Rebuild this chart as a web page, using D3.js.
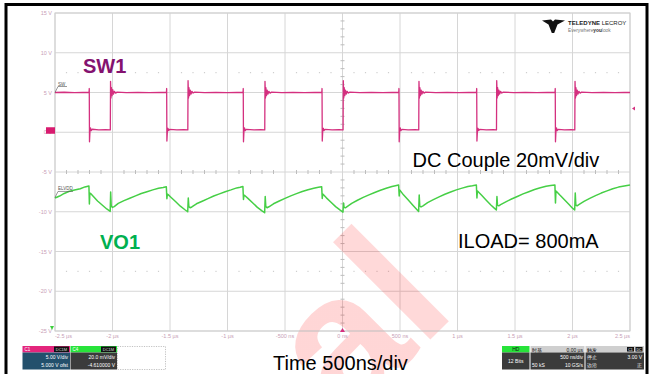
<!DOCTYPE html>
<html>
<head>
<meta charset="utf-8">
<script src="https://cdn.jsdelivr.net/npm/d3@7/dist/d3.min.js"></script>
<style>
  html, body { margin: 0; padding: 0; background: #fff; }
  svg { display: block; }
  text { font-family: "Liberation Sans", Arial, sans-serif; }
</style>
</head>
<body>
<svg id="chart" width="651" height="374"></svg>
<script>
// ---- axis ticks ----
const timeTicks = [-2.5, -2, -1.5, -1, -0.5, 0, 0.5, 1, 1.5, 2, 2.5];
const timeTickLabels = ["-2.5 µs", "-2 µs", "-1.5 µs", "-1 µs", "-500 ns", "0 ns", "500 ns", "1 µs", "1.5 µs", "2 µs", "2.5 µs"];
const voltTicks = [15, 10, 5, 0, -5, -10, -15, -20, -25];
const voltTickLabels = ["15 V", "10 V", "5 V", "0 V", "-5 V", "-10 V", "-15 V", "-20 V", "-25 V"];

// ---- C1: SW1 switching node, [time µs, volts] ----
const sw1Trace = [
  [-2.5, 5.0], [-2.42, 5.03], [-2.33, 4.98], [-2.26, 5.02], [-2.204, 5.0],
  [-2.202, 5.5], [-2.200, -1.2], [-2.196, 0.1], [-2.191, 0.55], [-2.185, 0.2], [-2.176, 0.38], [-2.12, 0.3], [-2.06, 0.33], [-2.019, 0.3],
  [-2.017, 6.4], [-2.013, 4.3], [-2.009, 5.6], [-2.004, 4.6], [-1.998, 5.35], [-1.991, 4.8], [-1.983, 5.15], [-1.973, 4.92], [-1.96, 5.05], [-1.88, 4.99], [-1.78, 5.02], [-1.68, 4.98], [-1.58, 5.01], [-1.531, 5.0],
  [-1.529, 5.5], [-1.527, -1.1], [-1.523, 0.1], [-1.518, 0.5], [-1.512, 0.2], [-1.503, 0.36], [-1.44, 0.3], [-1.38, 0.33], [-1.345, 0.3],
  [-1.343, 6.5], [-1.339, 4.3], [-1.335, 5.6], [-1.330, 4.6], [-1.324, 5.3], [-1.317, 4.8], [-1.309, 5.15], [-1.299, 4.93], [-1.286, 5.04], [-1.2, 4.99], [-1.1, 5.02], [-1.0, 4.98], [-0.92, 5.01], [-0.865, 5.0],
  [-0.863, 5.5], [-0.861, -1.2], [-0.857, 0.1], [-0.852, 0.55], [-0.846, 0.2], [-0.837, 0.37], [-0.77, 0.3], [-0.71, 0.33], [-0.676, 0.3],
  [-0.674, 6.4], [-0.670, 4.3], [-0.666, 5.6], [-0.661, 4.6], [-0.655, 5.3], [-0.648, 4.8], [-0.640, 5.15], [-0.630, 4.92], [-0.617, 5.05], [-0.53, 4.99], [-0.43, 5.02], [-0.33, 4.98], [-0.24, 5.01], [-0.180, 5.0],
  [-0.178, 5.5], [-0.176, -1.1], [-0.172, 0.1], [-0.167, 0.5], [-0.161, 0.2], [-0.152, 0.36], [-0.09, 0.3], [-0.03, 0.33], [0.005, 0.3],
  [0.007, 6.5], [0.011, 4.3], [0.015, 5.6], [0.020, 4.6], [0.026, 5.3], [0.033, 4.8], [0.041, 5.15], [0.051, 4.93], [0.064, 5.04], [0.15, 4.99], [0.25, 5.02], [0.35, 4.98], [0.43, 5.01], [0.489, 5.0],
  [0.491, 5.5], [0.493, -1.2], [0.497, 0.1], [0.502, 0.55], [0.508, 0.2], [0.517, 0.37], [0.57, 0.3], [0.63, 0.33], [0.663, 0.3],
  [0.665, 6.4], [0.669, 4.3], [0.673, 5.6], [0.678, 4.6], [0.684, 5.3], [0.691, 4.8], [0.699, 5.15], [0.709, 4.92], [0.722, 5.05], [0.81, 4.99], [0.91, 5.02], [1.01, 4.98], [1.10, 5.01], [1.165, 5.0],
  [1.167, 5.5], [1.169, -1.1], [1.173, 0.1], [1.178, 0.5], [1.184, 0.2], [1.193, 0.36], [1.25, 0.3], [1.31, 0.33], [1.339, 0.3],
  [1.341, 6.5], [1.345, 4.3], [1.349, 5.6], [1.354, 4.6], [1.360, 5.3], [1.367, 4.8], [1.375, 5.15], [1.385, 4.93], [1.398, 5.04], [1.49, 4.99], [1.59, 5.02], [1.69, 4.98], [1.78, 5.01], [1.848, 5.0],
  [1.850, 5.5], [1.852, -1.2], [1.856, 0.1], [1.861, 0.55], [1.867, 0.2], [1.876, 0.37], [1.93, 0.3], [1.99, 0.33], [2.020, 0.3],
  [2.022, 6.4], [2.026, 4.3], [2.030, 5.6], [2.035, 4.6], [2.041, 5.3], [2.048, 4.8], [2.056, 5.15], [2.066, 4.92], [2.079, 5.05], [2.17, 4.99], [2.27, 5.02], [2.37, 4.98], [2.45, 5.01], [2.5, 5.0]
];

// ---- C4: VO1 output ripple (20 mV/div, -4.61 V offset), [time µs, volts] ----
const vo1Trace = [
  [-2.5, 4.5969], [-2.46, 4.5979], [-2.42, 4.5992], [-2.38, 4.6002], [-2.33, 4.6009], [-2.28, 4.6016], [-2.24, 4.6025], [-2.205, 4.6030],
  [-2.201, 4.5939], [-2.197, 4.5994], [-2.19, 4.5992], [-2.17, 4.5979], [-2.13, 4.5954], [-2.09, 4.5934], [-2.05, 4.5914], [-2.02, 4.5902],
  [-2.016, 4.5999], [-2.011, 4.5929], [-2.0, 4.5922], [-1.985, 4.5926], [-1.95, 4.5942], [-1.90, 4.5956], [-1.85, 4.5968], [-1.80, 4.5980], [-1.75, 4.5992], [-1.70, 4.6001], [-1.65, 4.6010], [-1.60, 4.6018], [-1.56, 4.6022], [-1.532, 4.6026],
  [-1.527, 4.5966], [-1.523, 4.5989], [-1.516, 4.5986], [-1.49, 4.5972], [-1.45, 4.5950], [-1.41, 4.5928], [-1.37, 4.5910], [-1.346, 4.5900],
  [-1.341, 4.5969], [-1.336, 4.5926], [-1.325, 4.5920], [-1.31, 4.5924], [-1.27, 4.5940], [-1.22, 4.5953], [-1.17, 4.5966], [-1.12, 4.5979], [-1.07, 4.5990], [-1.02, 4.6001], [-0.97, 4.6010], [-0.92, 4.6020], [-0.89, 4.6023], [-0.866, 4.6027],
  [-0.861, 4.5962], [-0.857, 4.5984], [-0.85, 4.5982], [-0.82, 4.5966], [-0.78, 4.5944], [-0.74, 4.5922], [-0.70, 4.5904], [-0.677, 4.5895],
  [-0.672, 4.5977], [-0.667, 4.5927], [-0.656, 4.5920], [-0.64, 4.5925], [-0.60, 4.5940], [-0.55, 4.5954], [-0.50, 4.5967], [-0.45, 4.5980], [-0.40, 4.5991], [-0.35, 4.6002], [-0.30, 4.6011], [-0.25, 4.6018], [-0.21, 4.6023], [-0.181, 4.6026],
  [-0.176, 4.5967], [-0.172, 4.5989], [-0.165, 4.5986], [-0.14, 4.5970], [-0.10, 4.5948], [-0.06, 4.5926], [-0.02, 4.5908], [0.004, 4.5898],
  [0.009, 4.5944], [0.014, 4.5922], [0.025, 4.5920], [0.04, 4.5926], [0.08, 4.5942], [0.13, 4.5958], [0.18, 4.5972], [0.23, 4.5985], [0.28, 4.5997], [0.33, 4.6008], [0.38, 4.6018], [0.43, 4.6027], [0.46, 4.6031], [0.488, 4.6035],
  [0.493, 4.5979], [0.497, 4.6009], [0.504, 4.6005], [0.53, 4.5985], [0.57, 4.5960], [0.61, 4.5934], [0.64, 4.5915], [0.662, 4.5901],
  [0.667, 4.5984], [0.672, 4.5929], [0.683, 4.5924], [0.70, 4.5930], [0.74, 4.5946], [0.79, 4.5961], [0.84, 4.5975], [0.89, 4.5988], [0.94, 4.5999], [0.99, 4.6010], [1.04, 4.6019], [1.09, 4.6027], [1.13, 4.6031], [1.164, 4.6035],
  [1.169, 4.5969], [1.173, 4.6004], [1.18, 4.6001], [1.21, 4.5983], [1.25, 4.5958], [1.29, 4.5934], [1.32, 4.5918], [1.338, 4.5909],
  [1.343, 4.5977], [1.348, 4.5932], [1.359, 4.5930], [1.375, 4.5936], [1.42, 4.5950], [1.47, 4.5964], [1.52, 4.5977], [1.57, 4.5990], [1.62, 4.6001], [1.67, 4.6012], [1.72, 4.6021], [1.77, 4.6028], [1.81, 4.6032], [1.847, 4.6035],
  [1.852, 4.5944], [1.856, 4.6004], [1.863, 4.6001], [1.89, 4.5984], [1.93, 4.5960], [1.97, 4.5936], [2.00, 4.5918], [2.019, 4.5909],
  [2.024, 4.5994], [2.029, 4.5934], [2.04, 4.5930], [2.055, 4.5936], [2.10, 4.5952], [2.15, 4.5967], [2.20, 4.5981], [2.25, 4.5994], [2.30, 4.6005], [2.35, 4.6016], [2.40, 4.6024], [2.45, 4.6030], [2.5, 4.6035]
];

// channel settings
const c1Scale = 5.0, c1Offset = 5.0, triggerLevel = 3.0;
const c4Scale = 0.020, c4Offset = -4.61;

const svg = d3.select("#chart");
const W = 651, H = 374;
const plot = { left: 55, right: 630, top: 13, bottom: 331 };

const x = d3.scaleLinear().domain([-2.5, 2.5]).range([plot.left, plot.right]);
const y = d3.scaleLinear().domain([-25, 15]).range([plot.bottom, plot.top]);
// C4 shares the 8-division screen: center = -offset, +/- 4 div
const yVo = d3.scaleLinear()
  .domain([-c4Offset - 4 * c4Scale, -c4Offset + 4 * c4Scale])
  .range([plot.bottom, plot.top]);

const gridColor = "#d6d6d6";
const labelColor = "#c8a0b6";

// outer frame
svg.append("rect").attr("x", 6).attr("y", 4.5).attr("width", 641).attr("height", 385)
  .attr("fill", "#fff").attr("stroke", "#000").attr("stroke-width", 3);

// watermark
const defs = svg.append("defs");
const wmGrad = defs.append("linearGradient").attr("id", "wmGrad")
  .attr("gradientUnits", "userSpaceOnUse").attr("x1", 0).attr("y1", 290).attr("x2", 0).attr("y2", 374);
wmGrad.append("stop").attr("offset", 0).attr("stop-color", "#ff0000").attr("stop-opacity", 0.16);
wmGrad.append("stop").attr("offset", 1).attr("stop-color", "#ff0000").attr("stop-opacity", 0.75);

// grid
const g = svg.append("g");
g.append("g").selectAll("line").data(timeTicks).join("line")
  .attr("x1", d => x(d)).attr("x2", d => x(d)).attr("y1", plot.top).attr("y2", plot.bottom)
  .attr("stroke", gridColor).attr("stroke-width", 1);
g.append("g").selectAll("line").data(voltTicks).join("line")
  .attr("y1", d => y(d)).attr("y2", d => y(d)).attr("x1", plot.left).attr("x2", plot.right)
  .attr("stroke", gridColor).attr("stroke-width", 1);

// minor ticks along the centre cross-hair
const xMinor = d3.range(-2.5, 2.5001, 0.1).filter(t => Math.abs(Math.round(t * 2) - t * 2) > 1e-6);
const yMinor = d3.range(-25, 15.001, 1).filter(v => v % 5 !== 0);
g.append("g").selectAll("line").data(xMinor).join("line")
  .attr("x1", d => x(d)).attr("x2", d => x(d)).attr("y1", y(-5) - 2).attr("y2", y(-5) + 2)
  .attr("stroke", "#bdbdbd");
g.append("g").selectAll("line").data(yMinor).join("line")
  .attr("y1", d => y(d)).attr("y2", d => y(d)).attr("x1", x(0) - 2).attr("x2", x(0) + 2)
  .attr("stroke", "#bdbdbd");
// dotted half-division rows
[7.5, -17.5].forEach(v => {
  g.append("g").selectAll("rect").data(xMinor).join("rect")
    .attr("x", d => x(d) - 0.6).attr("y", y(v) - 0.6).attr("width", 1.2).attr("height", 1.2)
    .attr("fill", "#cfcfcf");
});

// watermark letters drawn under the traces
const wm = svg.append("g").attr("transform", "translate(346,424) rotate(-45)");
wm.append("text").attr("x", 0).attr("y", 0).attr("font-size", 190).attr("font-weight", "bold")
  .attr("fill", "url(#wmGrad)").text("a");
wm.append("text").attr("x", 106).attr("y", 0).attr("font-size", 190).attr("font-weight", "bold")
  .attr("fill", "#ff0000").attr("fill-opacity", 0.15).text("l");

// plot border
svg.append("rect").attr("x", plot.left).attr("y", plot.top)
  .attr("width", plot.right - plot.left).attr("height", plot.bottom - plot.top)
  .attr("fill", "none").attr("stroke", "#cfcfcf");

// y tick labels
svg.append("g").selectAll("text").data(voltTicks).join("text")
  .attr("x", plot.left - 3).attr("y", d => y(d) + 2)
  .attr("text-anchor", "end").attr("font-size", 5.5).attr("fill", labelColor)
  .text((d, i) => voltTickLabels[i]);

// x tick labels
svg.append("g").selectAll("text").data(timeTicks).join("text")
  .attr("x", d => x(d)).attr("y", plot.bottom + 6.5)
  .attr("text-anchor", (d, i) => i === 0 ? "start" : (i === timeTicks.length - 1 ? "end" : "middle"))
  .attr("font-size", 5.5).attr("fill", labelColor)
  .text((d, i) => timeTickLabels[i]);

// traces
const lineSw = d3.line().x(d => x(d[0])).y(d => y(d[1]));
const lineVo = d3.line().x(d => x(d[0])).y(d => yVo(d[1]));
svg.append("path").datum(vo1Trace).attr("d", lineVo)
  .attr("fill", "none").attr("stroke", "#46cf46").attr("stroke-width", 1.5).attr("stroke-linejoin", "round");
svg.append("path").datum(sw1Trace).attr("d", lineSw)
  .attr("fill", "none").attr("stroke", "#d4307f").attr("stroke-width", 1.3).attr("stroke-linejoin", "round");

// trace tags
function tag(label, v, scale, w) {
  const yy = scale(v);
  svg.append("line").attr("x1", plot.left).attr("y1", yy).attr("x2", plot.left + 3).attr("y2", yy - 6)
    .attr("stroke", "#555").attr("stroke-width", 0.6);
  svg.append("line").attr("x1", plot.left + 3).attr("y1", yy - 6).attr("x2", plot.left + 3 + w).attr("y2", yy - 6)
    .attr("stroke", "#555").attr("stroke-width", 0.6);
  svg.append("text").attr("x", plot.left + 3).attr("y", yy - 7).attr("font-size", 4.5).attr("fill", "#555").text(label);
}
tag("SW", 5.0, y, 9);
tag("ELVDD", 4.5972, yVo, 15);

// C1 ground marker
svg.append("rect").attr("x", 46).attr("y", y(0) - 5).attr("width", 9).attr("height", 6.5)
  .attr("fill", "#d81b6f");
// C4 off-screen marker
svg.append("path").attr("d", `M50,${plot.bottom - 5} L54,${plot.bottom - 5} L52,${plot.bottom - 1} Z`)
  .attr("fill", "#3ccf3c");
// trigger level and position markers
svg.append("path").attr("d", `M${plot.right + 5},${y(triggerLevel) - 2} L${plot.right + 2},${y(triggerLevel)} L${plot.right + 5},${y(triggerLevel) + 2} Z`)
  .attr("fill", "#d4307f");
svg.append("path").attr("d", `M${x(0) - 2.5},${plot.bottom + 1} L${x(0)},${plot.bottom - 3} L${x(0) + 2.5},${plot.bottom + 1} Z`)
  .attr("fill", "#d4307f");

// annotations
svg.append("text").attr("x", 83).attr("y", 73).attr("font-size", 20).attr("font-weight", "bold")
  .attr("fill", "#84126f").text("SW1");
svg.append("text").attr("x", 100).attr("y", 249).attr("font-size", 20).attr("font-weight", "bold")
  .attr("fill", "#00b050").text("VO1");
svg.append("text").attr("x", 412.5).attr("y", 166.5).attr("font-size", 20).attr("fill", "#000")
  .text("DC Couple 20mV/div");
svg.append("text").attr("x", 458).attr("y", 248).attr("font-size", 20).attr("fill", "#000")
  .text("ILOAD= 800mA");
svg.append("text").attr("x", 273).attr("y", 370).attr("font-size", 20).attr("fill", "#000")
  .text("Time 500ns/div");

// logo
const logo = svg.append("g");
logo.append("path").attr("d", "M542,20.5 L551,19.5 L553,21.5 L555,19.5 L565,20.5 L557.5,24.5 L554.2,33 L551.8,33 L548.5,24.5 Z")
  .attr("fill", "#111");
logo.append("text").attr("x", 568).attr("y", 25).attr("font-size", 6).attr("fill", "#222")
  .html('<tspan font-weight="bold">TELEDYNE</tspan> LECROY');
logo.append("text").attr("x", 568).attr("y", 31.5).attr("font-size", 4.8).attr("fill", "#777")
  .html('Everywhere<tspan font-weight="bold" fill="#333">you</tspan>look');

// channel descriptor boxes
function chanBox(x0, w, headColor, name, line1, line2, bodyColor) {
  const b = svg.append("g");
  b.append("rect").attr("x", x0).attr("y", 346).attr("width", w).attr("height", 6.5).attr("fill", headColor);
  b.append("rect").attr("x", x0 + w - 16).attr("y", 346.5).attr("width", 15).attr("height", 5.5).attr("fill", "#111");
  b.append("text").attr("x", x0 + 2).attr("y", 351.3).attr("font-size", 4.5).attr("fill", "#fff").text(name);
  b.append("text").attr("x", x0 + w - 8.5).attr("y", 351.3).attr("font-size", 4).attr("fill", "#ddd")
    .attr("text-anchor", "middle").text("DC1M");
  b.append("rect").attr("x", x0).attr("y", 352.5).attr("width", w).attr("height", 17).attr("fill", bodyColor);
  b.append("text").attr("x", x0 + w - 2).attr("y", 359).attr("font-size", 5).attr("fill", "#fff")
    .attr("text-anchor", "end").text(line1);
  b.append("text").attr("x", x0 + w - 2).attr("y", 366.5).attr("font-size", 5).attr("fill", "#fff")
    .attr("text-anchor", "end").text(line2);
}
chanBox(22.5, 47.5, "#e3257c", "C1", "5.00 V/div", "5.000 V ofst", "#23506c");
chanBox(70.5, 46.5, "#27e33a", "C4", "20.0 mV/div", "-4.610000 V", "#3b3b3b");
svg.append("rect").attr("x", 117.5).attr("y", 346.5).attr("width", 48).attr("height", 23)
  .attr("fill", "none").attr("stroke", "#999").attr("stroke-width", 0.6).attr("stroke-dasharray", "1.2,1.2");

// acquisition boxes
const acq = svg.append("g");
acq.append("rect").attr("x", 502).attr("y", 346).attr("width", 27.5).attr("height", 6.5).attr("fill", "#27e33a");
acq.append("text").attr("x", 515.75).attr("y", 351.3).attr("font-size", 5).attr("text-anchor", "middle").attr("fill", "#111").text("HD");
acq.append("rect").attr("x", 502).attr("y", 352.5).attr("width", 27.5).attr("height", 17).attr("fill", "#3b3b3b");
acq.append("text").attr("x", 515.75).attr("y", 362.5).attr("font-size", 5).attr("text-anchor", "middle").attr("fill", "#fff").text("12 Bits");

acq.append("rect").attr("x", 530.5).attr("y", 346).attr("width", 54).attr("height", 6.5).attr("fill", "#cfcfcf");
acq.append("text").attr("x", 532).attr("y", 351.5).attr("font-size", 5).attr("fill", "#111").text("时基");
acq.append("text").attr("x", 583).attr("y", 351.5).attr("font-size", 5).attr("text-anchor", "end").attr("fill", "#111").text("0.00 µs");
acq.append("rect").attr("x", 530.5).attr("y", 352.5).attr("width", 54).attr("height", 17).attr("fill", "#3b3b3b");
acq.append("text").attr("x", 583).attr("y", 359).attr("font-size", 5).attr("text-anchor", "end").attr("fill", "#fff").text("500 ns/div");
acq.append("text").attr("x", 532).attr("y", 366.5).attr("font-size", 5).attr("fill", "#fff").text("50 kS");
acq.append("text").attr("x", 583).attr("y", 366.5).attr("font-size", 5).attr("text-anchor", "end").attr("fill", "#fff").text("10 GS/s");

acq.append("rect").attr("x", 585.5).attr("y", 346).attr("width", 58.5).attr("height", 6.5).attr("fill", "#cfcfcf");
acq.append("text").attr("x", 587).attr("y", 351.5).attr("font-size", 5).attr("fill", "#111").text("触发");
acq.append("rect").attr("x", 627).attr("y", 347).attr("width", 7).attr("height", 4.5).attr("fill", "#111");
acq.append("rect").attr("x", 635.5).attr("y", 347).attr("width", 7).attr("height", 4.5).attr("fill", "#111");
acq.append("text").attr("x", 630.5).attr("y", 350.8).attr("font-size", 3.5).attr("text-anchor", "middle").attr("fill", "#fff").text("C1");
acq.append("text").attr("x", 639).attr("y", 350.8).attr("font-size", 3.5).attr("text-anchor", "middle").attr("fill", "#fff").text("DC");
acq.append("rect").attr("x", 585.5).attr("y", 352.5).attr("width", 58.5).attr("height", 17).attr("fill", "#3b3b3b");
acq.append("text").attr("x", 587).attr("y", 359).attr("font-size", 5).attr("fill", "#fff").text("停止");
acq.append("text").attr("x", 642).attr("y", 359).attr("font-size", 5).attr("text-anchor", "end").attr("fill", "#fff").text(triggerLevel.toFixed(2) + " V");
acq.append("text").attr("x", 587).attr("y", 366.5).attr("font-size", 5).attr("fill", "#fff").text("边沿");
acq.append("text").attr("x", 642).attr("y", 366.5).attr("font-size", 5).attr("text-anchor", "end").attr("fill", "#fff").text("正");
</script>
</body>
</html>
